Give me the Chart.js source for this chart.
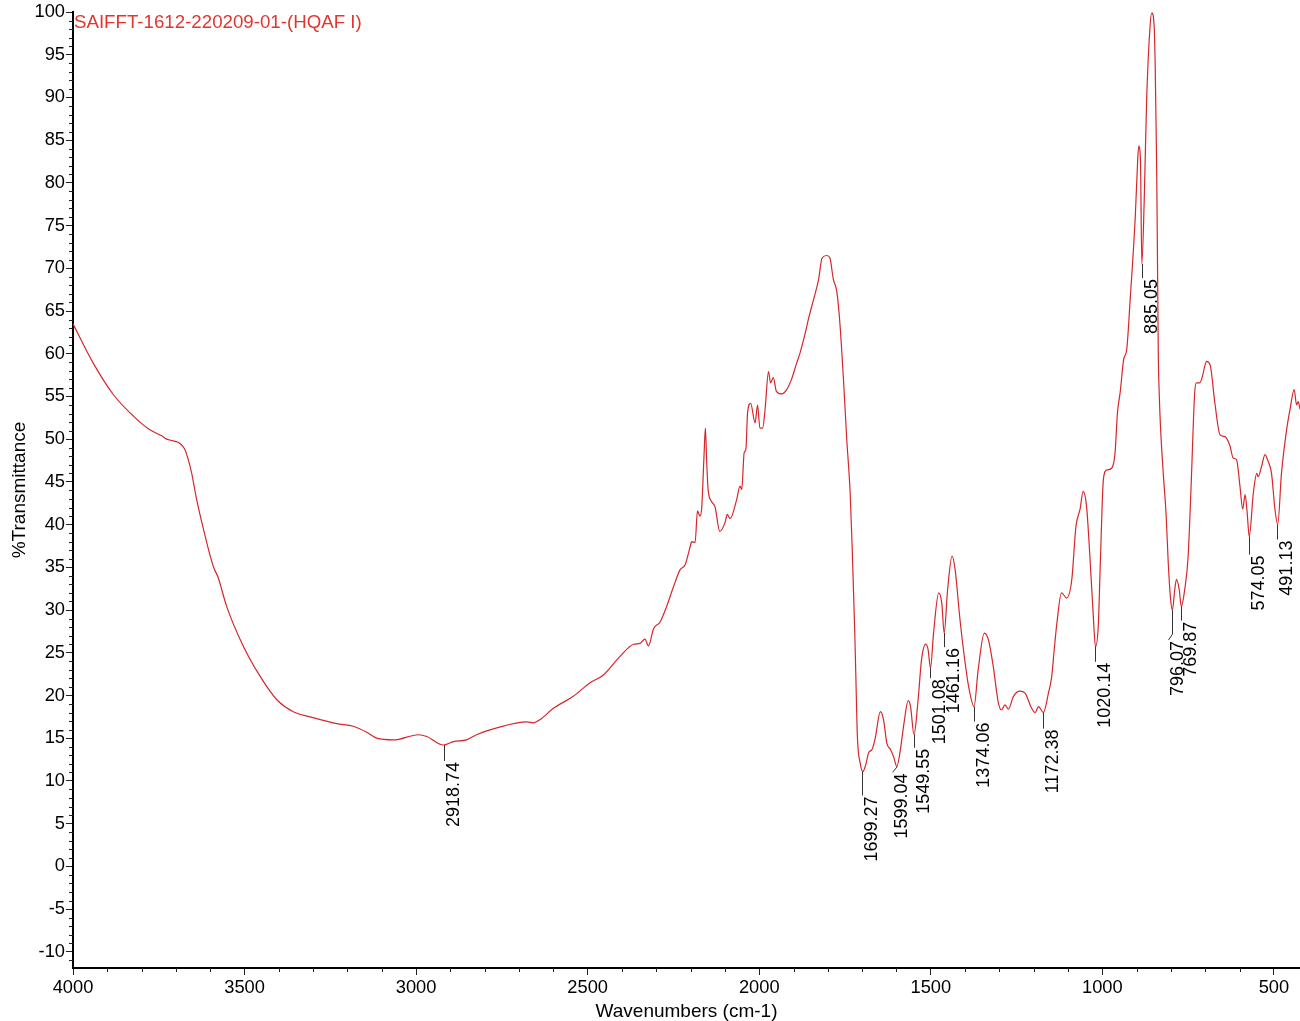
<!DOCTYPE html>
<html>
<head>
<meta charset="utf-8">
<script src="https://cdn.jsdelivr.net/npm/chart.js@4"></script>
<style>
  body { margin: 0; background: #fff; }
  #wrap { width: 1300px; height: 1021px; }
</style>
</head>
<body>
<div id="wrap"><canvas id="ftir" width="1300" height="1021"></canvas></div>
<script>
// spectrum (cm-1, %T)
const wavenumbers = [4000,3941,3882,3824,3776,3742,3727,3708,3688,3674,3664,3654,3640,3620,3591,3577,3552,3504,3454,3406,3358,3309,3232,3183,3144,3115,3066,2993,2969,2921,2891,2853,2824,2765,2678,2658,2638,2600,2542,2493,2454,2405,2366,2347,2333,2323,2308,2289,2270,2251,2231,2216,2202,2197,2187,2180,2173,2168,2161,2157,2153,2149,2139,2129,2115,2100,2093,2085,2066,2056,2051,2044,2039,2034,2025,2012,2005,1998,1990,1983,1973,1967,1959,1950,1935,1920,1906,1891,1881,1866,1857,1842,1827,1817,1803,1794,1784,1774,1765,1754,1745,1735,1729,1722,1718,1714,1706,1698,1691,1681,1671,1662,1647,1638,1628,1618,1609,1599,1590,1578,1566,1559,1549,1537,1527,1515,1508,1501,1492,1477,1468,1461,1451,1438,1429,1416,1405,1390,1374,1362,1344,1332,1318,1303,1294,1284,1274,1259,1240,1226,1206,1196,1186,1172,1157,1148,1140,1133,1119,1104,1089,1077,1065,1056,1046,1037,1027,1020,1012,1005,997,987,973,963,956,948,938,929,919,904,897,894,889,885,878,871,861,856,849,846,842,840,837,834,830,822,814,808,801,796,789,784,776,770,760,750,741,731,726,716,708,702,696,686,672,657,643,628,619,609,599,591,584,578,572,560,550,546,536,526,517,507,497,489,478,463,453,441,434,429,424];
const transmittance = [63.5,58.9,55.2,52.7,51.1,50.4,50.0,49.8,49.5,48.8,47.6,46.0,43.0,39.5,35.1,33.8,30.4,25.8,22.2,19.5,18.1,17.5,16.7,16.4,15.7,15.0,14.8,15.4,15.2,14.2,14.6,14.8,15.4,16.2,16.9,16.8,17.2,18.5,19.9,21.5,22.4,24.6,26.0,26.1,26.6,25.8,27.8,28.6,30.4,32.6,34.7,35.3,37.3,38.0,37.9,41.6,41.0,41.8,48.0,51.3,47.2,44.1,42.7,42.1,39.2,40.2,41.2,40.7,42.9,44.5,44.1,48.4,48.8,53.1,54.2,51.9,54.0,51.3,51.3,53.5,57.9,56.6,57.2,55.6,55.3,55.8,57.0,58.9,60.1,62.4,64.0,66.3,68.7,71.2,71.5,71.2,68.7,67.3,63.6,56.6,50.0,43.7,37.1,28.0,21.5,15.2,12.1,11.1,11.7,13.3,13.7,15.0,18.1,17.2,14.4,13.7,12.9,11.7,13.3,16.8,19.4,18.7,15.4,19.5,24.2,26.0,25.4,23.2,27.3,32.0,30.8,27.3,32.4,36.3,34.7,29.3,25.4,21.1,18.7,23.0,27.3,26.5,23.4,19.1,18.3,18.9,18.4,19.9,20.5,20.3,18.5,18.0,18.7,18.0,20.3,22.1,25.5,28.3,32.0,31.4,33.6,39.8,41.8,43.9,42.1,36.7,29.7,25.7,28.1,36.7,45.3,46.4,46.6,48.4,53.1,55.5,59.3,60.5,66.3,76.1,82.7,84.3,82.7,70.5,78.0,89.7,98.3,99.9,98.3,93.6,82.7,74.1,60.0,55.0,51.0,45.7,41.0,35.5,31.2,30.0,32.4,33.6,32.4,30.4,32.4,36.3,44.9,55.4,56.6,56.6,57.4,58.5,59.1,58.7,54.2,50.5,50.3,49.2,47.8,47.6,44.5,41.8,43.5,41.4,38.6,43.7,46.0,45.6,46.8,48.2,47.4,46.0,41.8,40.0,46.0,51.1,53.5,55.8,54.0,54.4,53.5];

// picked peaks
const peakWavenumbers = [2918.74,1699.27,1599.04,1549.55,1501.08,1461.16,1374.06,1172.38,1020.14,885.05,796.07,769.87,574.05,491.13];
const peakTransmittance = [14.2,11.1,11.7,15.4,23.2,27.3,18.7,18.0,25.7,70.5,30.0,30.4,38.6,40.0];

const xTicks = [4000,3500,3000,2500,2000,1500,1000,500];
const yTicks = [-10,-5,0,5,10,15,20,25,30,35,40,45,50,55,60,65,70,75,80,85,90,95,100];

const sampleName = 'SAIFFT-1612-220209-01-(HQAF I)';

// leader length / sideways nudge of each peak label, in px
const peakDrop = [16,24,6,13,10,14,15,16,15,14,30,14,18,15];
const peakDx = [0,0,-5,0,0,0,0,0,0,0,-4,0,0,0];

const lineColor = '#d7262b';

const minorTicks = {
  id: 'minorTicks',
  afterDraw(chart) {
    const ctx = chart.ctx;
    const xs = chart.scales.x, ys = chart.scales.y;
    ctx.save();
    ctx.strokeStyle = '#222';
    ctx.lineWidth = 1;
    ctx.beginPath();
    for (let v = Math.ceil(ys.min); v <= ys.max; v++) {
      if (v % 5 === 0) continue;
      const py = Math.round(ys.getPixelForValue(v)) + 0.5;
      ctx.moveTo(ys.right - 4, py);
      ctx.lineTo(ys.right, py);
    }
    for (let v = Math.ceil(xs.min / 100) * 100; v <= xs.max; v += 100) {
      if (v % 500 === 0) continue;
      const px = Math.round(xs.getPixelForValue(v)) + 0.5;
      ctx.moveTo(px, xs.top);
      ctx.lineTo(px, xs.top + 4);
    }
    ctx.stroke();
    ctx.restore();
  }
};

const peakLabels = {
  id: 'peakLabels',
  afterDatasetsDraw(chart) {
    const ctx = chart.ctx;
    const xs = chart.scales.x, ys = chart.scales.y;
    ctx.save();
    ctx.font = '18px "Liberation Sans", Arial, sans-serif';
    ctx.fillStyle = '#000';
    ctx.strokeStyle = '#333';
    ctx.lineWidth = 1;
    peakWavenumbers.forEach((wn, i) => {
      const px = Math.round(xs.getPixelForValue(wn)) + 0.5;
      const py = ys.getPixelForValue(peakTransmittance[i]);
      const end = py + peakDrop[i];
      ctx.beginPath();
      ctx.moveTo(px, py);
      if (peakDx[i]) {
        ctx.lineTo(px, end - 6);
        ctx.lineTo(px + peakDx[i], end);
      } else {
        ctx.lineTo(px, end);
      }
      ctx.stroke();
      ctx.save();
      ctx.translate(px + peakDx[i] + 1, end + 1);
      ctx.rotate(-Math.PI / 2);
      ctx.textAlign = 'right';
      ctx.textBaseline = 'top';
      ctx.fillText(wn.toFixed(2), 0, 0);
      ctx.restore();
    });
    // sample name in the top left corner
    ctx.font = '18.7px "Liberation Sans", Arial, sans-serif';
    ctx.fillStyle = '#e2352d';
    ctx.textAlign = 'left';
    ctx.textBaseline = 'middle';
    ctx.fillText(sampleName, chart.chartArea.left + 1, 23);
    ctx.restore();
  }
};

const tickFont = { family: '"Liberation Sans", Arial, sans-serif', size: 18.3 };
const titleFont = { family: '"Liberation Sans", Arial, sans-serif', size: 19, lineHeight: 1 };

new Chart(document.getElementById('ftir'), {
  type: 'line',
  data: {
    datasets: [{
      data: wavenumbers.map((w, i) => ({ x: w, y: transmittance[i] })),
      borderColor: lineColor,
      borderWidth: 1.2,
      pointRadius: 0,
      fill: false,
      cubicInterpolationMode: 'monotone'
    }]
  },
  options: {
    responsive: false,
    animation: false,
    events: [],
    layout: { padding: { top: 12, right: 0, left: 0, bottom: 0 } },
    plugins: { legend: { display: false }, tooltip: { enabled: false } },
    scales: {
      x: {
        type: 'linear',
        reverse: true,
        min: 424,
        max: 4000,
        afterBuildTicks: s => { s.ticks = xTicks.map(v => ({ value: v })); },
        afterFit: s => { s.height = 53; },
        border: { display: true, color: '#000', width: 2 },
        grid: { drawOnChartArea: false, drawTicks: true, tickLength: 7, tickColor: '#222' },
        ticks: { color: '#000', font: tickFont, padding: 2, maxRotation: 0, autoSkip: false, callback: v => String(v) },
        title: { display: true, text: 'Wavenumbers (cm-1)', color: '#000', font: titleFont, padding: { top: 0, bottom: 0 } }
      },
      y: {
        type: 'linear',
        min: -11.9,
        max: 100,
        afterBuildTicks: s => { s.ticks = yTicks.map(v => ({ value: v })); },
        afterFit: s => { s.width = 73; },
        border: { display: true, color: '#000', width: 2 },
        grid: { drawOnChartArea: false, drawTicks: true, tickLength: 7, tickColor: '#222' },
        ticks: { color: '#000', font: tickFont, padding: 1, autoSkip: false, callback: v => String(v) },
        title: { display: true, text: '%Transmittance', color: '#000', font: titleFont, padding: { top: 10, bottom: 0 } }
      }
    }
  },
  plugins: [minorTicks, peakLabels]
});
</script>
</body>
</html>
